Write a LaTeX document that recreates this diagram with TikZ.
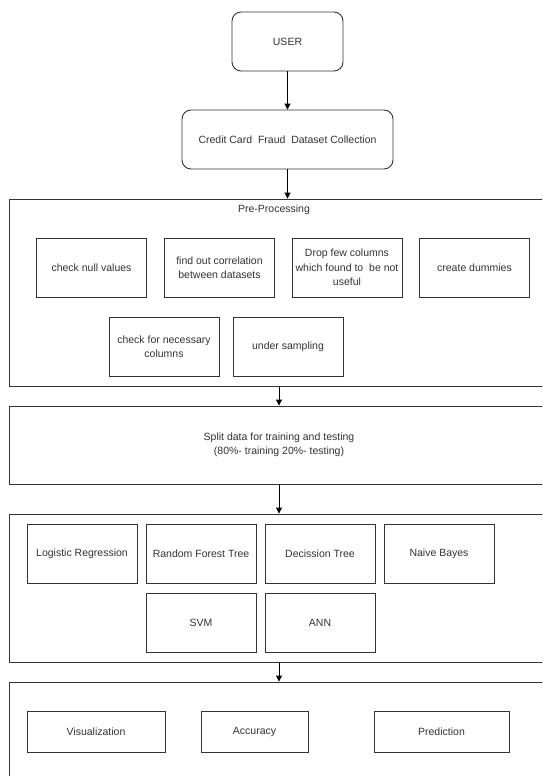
\documentclass[tikz,border=0pt]{standalone}
\usepackage{fontspec}
\setmainfont{Liberation Sans}
\usetikzlibrary{arrows.meta}
\definecolor{linec}{HTML}{333333}
\definecolor{textc}{HTML}{333333}
\begin{document}
\begin{tikzpicture}[x=1pt,y=-1pt,
  every node/.style={font=\fontsize{10.5}{14.5}\selectfont, text=textc, align=center, inner sep=0pt},
  box/.style={draw=linec, line width=0.9pt, rectangle, minimum width=#1},
  box/.default=110pt,
  rbox/.style={draw=linec, line width=0.9pt, rectangle, rounded corners=9pt, minimum height=59pt},
  cont/.style={draw=linec, line width=0.9pt, rectangle, minimum width=540pt},
  conn/.style={draw=black, line width=0.9pt, -{Triangle[length=6pt,width=6pt]}}
]
\useasboundingbox (0,0) rectangle (542,776);
\clip (0,0) rectangle (542,776);
\fill[white] (0,0) rectangle (542,776);

% top
\node[rbox, minimum width=111pt] (user) at (287.5,41.5) {USER};
\node[rbox, minimum width=211pt] (credit) at (287.5,139.5) {Credit Card~ Fraud~ Dataset Collection};

% pre-processing container
\node[cont, minimum height=187pt] (pre) at (279,292.5) {};
\node (pretitle) at (274,210) {Pre-Processing};
\node[box, minimum height=59pt] (null) at (91.5,267.5) {check null values};
\node[box, minimum height=59pt] (corr) at (219.5,267.5) {find out correlation\\between datasets};
\node[box, minimum height=59pt] (drop) at (347,267.5) {Drop few columns\\which found to~ be not\\useful};
\node[box, minimum height=59pt] (dumm) at (474.5,267.5) {create dummies};
\node[box, minimum height=59pt] (nec) at (164,346.5) {check for necessary\\columns};
\node[box, minimum height=59pt] (under) at (288,346.5) {under sampling};

% split
\node[cont, minimum height=78pt] (split) at (279,445) {Split data for training and testing\\(80\%- training 20\%- testing)};

% models
\node[cont, minimum height=148pt] (models) at (279,588) {};
\node[box, minimum height=59pt] (lr) at (82,553.5) {Logistic Regression};
\node[box, minimum height=59pt] (rf) at (201,553.5) {Random Forest Tree};
\node[box, minimum height=59pt] (dt) at (320,553.5) {Decission Tree};
\node[box, minimum height=59pt] (nb) at (439,553.5) {Naive Bayes};
\node[box, minimum height=59pt] (svm) at (201,622.5) {SVM};
\node[box, minimum height=59pt] (ann) at (320,622.5) {ANN};

% final
\node[cont, minimum height=118pt] (final) at (279,741) {};
\node[box=138pt, minimum height=41pt] (vis) at (96,731.5) {Visualization};
\node[box=107pt, minimum height=41pt] (acc) at (254.5,731.5) {Accuracy};
\node[box=135pt, minimum height=41pt] (pred) at (441.5,731.5) {Prediction};

% connectors
\draw[conn] (user.south) -- (credit.north);
\draw[conn] (credit.south) -- (credit.south |- pre.north);
\draw[conn] (pre.south) -- (split.north);
\draw[conn] (split.south) -- (models.north);
\draw[conn] (models.south) -- (final.north);
\end{tikzpicture}
\end{document}
